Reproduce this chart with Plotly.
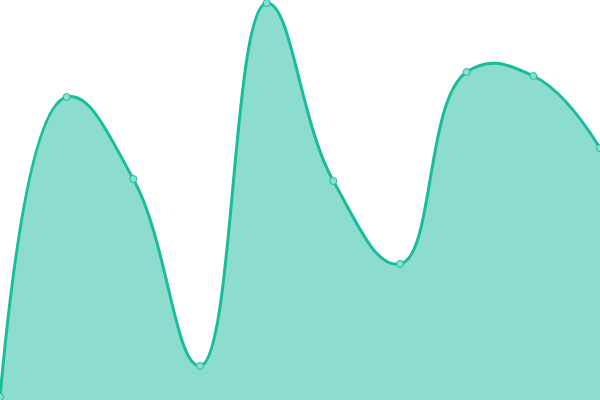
import plotly.graph_objects as go

# point positions along the x axis and their values
x_vals = [0, 1, 2, 3, 4, 5, 6, 7, 8, 9]
y_vals = [3, 303, 221, 34, 397, 219, 136, 328, 324, 252]

LINE = '#1abc9c'
FILL = 'rgba(26,188,156,0.5)'

fig = go.Figure()
fig.add_trace(go.Scatter(
    x=x_vals,
    y=y_vals,
    mode='lines+markers',
    fill='tozeroy',
    fillcolor=FILL,
    line=dict(color=LINE, width=3, shape='spline', smoothing=1.25),
    marker=dict(size=7, color='#8ae0d0', line=dict(color=LINE, width=1)),
    hoverinfo='skip',
    showlegend=False,
))

fig.update_layout(
    width=600,
    height=400,
    margin=dict(l=0, r=0, t=0, b=0),
    xaxis=dict(visible=False, range=[0, 9], fixedrange=True),
    yaxis=dict(visible=False, range=[0, 400], fixedrange=True),
    plot_bgcolor='white',
    paper_bgcolor='white',
)

# drop the page's default body margin so the chart sits at the top-left corner
fig.write_html("out.html", post_script="document.body.style.margin='0';",
               config={'displayModeBar': False})
